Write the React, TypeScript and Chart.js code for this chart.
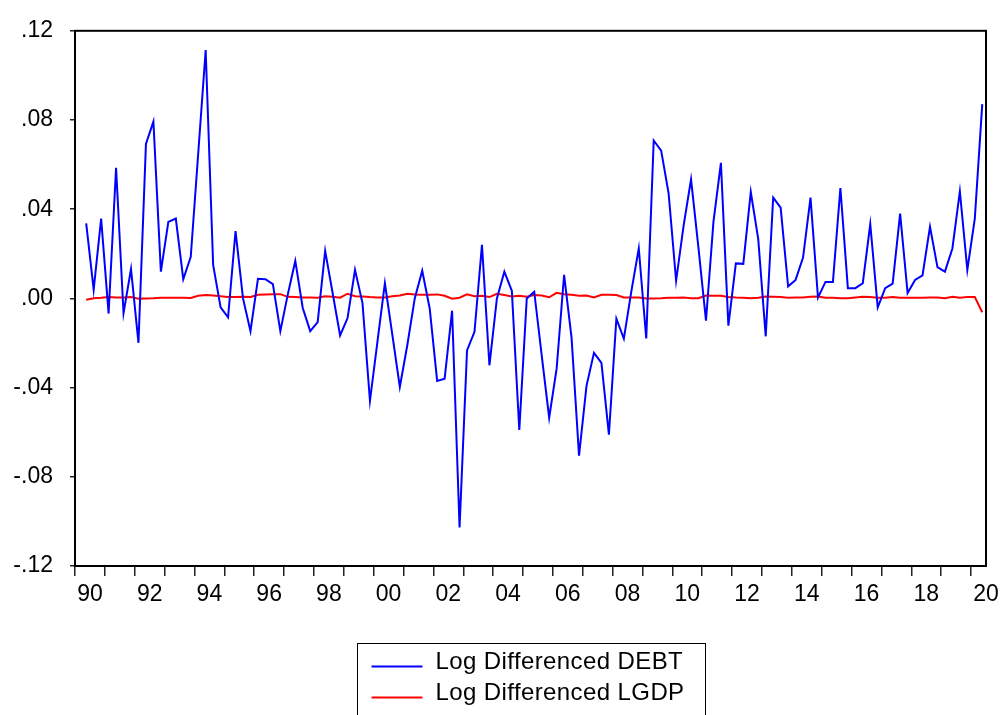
import React, { useEffect, useRef } from "react";
import { Chart, registerables } from "chart.js";

Chart.register(...registerables);

// Quarterly sample: 1990Q2 .. 2020Q2
const START_YEAR = 1990;
const START_QUARTER = 2;
const AXIS_MIN_YEAR = 1990;
const AXIS_MAX_YEAR = 2020.5;

const seriesNames = ["Log Differenced DEBT", "Log Differenced LGDP"];
const seriesColors = ["#0000FF", "#FF0000"];

const debt = [
  0.0336, 0.0039, 0.0358, -0.0068, 0.0586, -0.0066, 0.0132, -0.0199, 0.0693, 0.0793,
  0.0120, 0.0343, 0.0358, 0.0086, 0.0187, 0.0650, 0.1114, 0.0150, -0.0040, -0.0085,
  0.0302, 0.0000, -0.0147, 0.0088, 0.0086, 0.0064, -0.0147, 0.0018, 0.0168, -0.0043,
  -0.0147, -0.0106, 0.0213, 0.0024, -0.0166, -0.0088, 0.0128, -0.0021, -0.0459, -0.0195,
  0.0068, -0.0164, -0.0397, -0.0210, 0.0000, 0.0124, -0.0045, -0.0370, -0.0360, -0.0055,
  -0.1027, -0.0233, -0.0150, 0.0240, -0.0300, 0.0000, 0.0120, 0.0034, -0.0590, 0.0000,
  0.0030, -0.0255, -0.0535, -0.0315, 0.0106, -0.0177, -0.0705, -0.0392, -0.0244, -0.0289,
  -0.0611, -0.0091, -0.0180, 0.0030, 0.0224, -0.0180, 0.0708, 0.0663, 0.0470, 0.0079,
  0.0325, 0.0534, 0.0224, -0.0100, 0.0343, 0.0608, -0.0122, 0.0157, 0.0155, 0.0477,
  0.0266, -0.0170, 0.0452, 0.0407, 0.0054, 0.0083, 0.0183, 0.0452, 0.0003, 0.0074,
  0.0074, 0.0495, 0.0046, 0.0046, 0.0068, 0.0333, -0.0040, 0.0046, 0.0066, 0.0380,
  0.0024, 0.0083, 0.0103, 0.0321, 0.0140, 0.0120, 0.0224, 0.0480, 0.0128, 0.0358,
  0.0871,
];

const lgdp = [
  -0.0006, 0.0001, 0.0003, 0.0006, 0.0004, 0.0004, 0.0006, -0.0001, 0.0000, 0.0001,
  0.0003, 0.0003, 0.0003, 0.0003, 0.0002, 0.0012, 0.0015, 0.0013, 0.0010, 0.0006,
  0.0006, 0.0007, 0.0006, 0.0016, 0.0018, 0.0019, 0.0019, 0.0007, 0.0006, 0.0004,
  0.0004, 0.0003, 0.0010, 0.0007, 0.0003, 0.0021, 0.0010, 0.0009, 0.0006, 0.0004,
  0.0004, 0.0010, 0.0013, 0.0021, 0.0018, 0.0016, 0.0016, 0.0018, 0.0012, -0.0001,
  0.0003, 0.0018, 0.0010, 0.0012, 0.0006, 0.0021, 0.0015, 0.0009, 0.0012, 0.0007,
  0.0015, 0.0013, 0.0005, 0.0025, 0.0019, 0.0016, 0.0012, 0.0013, 0.0004, 0.0016,
  0.0016, 0.0015, 0.0004, 0.0004, 0.0004, 0.0000, 0.0000, 0.0001, 0.0003, 0.0003,
  0.0004, 0.0001, 0.0001, 0.0013, 0.0012, 0.0012, 0.0006, 0.0004, 0.0003, 0.0001,
  0.0003, 0.0008, 0.0007, 0.0006, 0.0003, 0.0004, 0.0004, 0.0007, 0.0009, 0.0003,
  0.0003, 0.0001, 0.0001, 0.0004, 0.0007, 0.0006, 0.0003, 0.0003, 0.0006, 0.0003,
  0.0003, 0.0003, 0.0003, 0.0004, 0.0004, 0.0001, 0.0007, 0.0003, 0.0006, 0.0006,
  -0.0062,
];

const yTicks = [-0.12, -0.08, -0.04, 0, 0.04, 0.08, 0.12];
const xLabelYears = [1990, 1992, 1994, 1996, 1998, 2000, 2002, 2004, 2006, 2008, 2010, 2012, 2014, 2016, 2018, 2020];

const FONT_FAMILY = "'Liberation Sans', Arial, Helvetica, sans-serif";

const quarterX = (i: number) => START_YEAR + (START_QUARTER - 1) / 4 + i / 4 + 0.125;

const fmtY = (v: number) => {
  if (Math.abs(v) < 1e-9) return ".00";
  const s = v.toFixed(2);
  return s.replace("0.", ".");
};

export default function App() {
  const ref = useRef<HTMLCanvasElement | null>(null);

  useEffect(() => {
    const canvas = ref.current;
    if (!canvas) return;

    const frame = {
      id: "frame",
      afterDatasetsDraw(chart: any) {
        const { ctx, chartArea } = chart;
        ctx.save();
        ctx.strokeStyle = "#000";
        ctx.lineWidth = 2;
        ctx.strokeRect(chartArea.left, chartArea.top, chartArea.right - chartArea.left, chartArea.bottom - chartArea.top);
        ctx.restore();
      },
    };

    const boxLegend = {
      id: "boxLegend",
      afterDraw(chart: any) {
        const { ctx, chartArea } = chart;
        const cx = (chartArea.left + chartArea.right) / 2;
        const left = Math.round(cx - 174) + 0.5;
        const top = Math.round(chartArea.bottom + 77) + 0.5;
        ctx.save();
        ctx.strokeStyle = "#000";
        ctx.lineWidth = 1;
        ctx.strokeRect(left, top, 348, 120);
        ctx.font = `24px ${FONT_FAMILY}`;
        try {
          (ctx as any).letterSpacing = "0.4px";
        } catch (e) {
          /* ignore */
        }
        ctx.textBaseline = "alphabetic";
        ctx.textAlign = "left";
        seriesNames.forEach((name, k) => {
          const ly = top + 23 + k * 31;
          ctx.strokeStyle = seriesColors[k];
          ctx.lineWidth = 2;
          ctx.beginPath();
          ctx.moveTo(left + 14, ly);
          ctx.lineTo(left + 65, ly);
          ctx.stroke();
          ctx.fillStyle = "#000";
          ctx.fillText(name, left + 78, ly + 2);
        });
        ctx.restore();
      },
    };

    const chart = new Chart(canvas, {
      type: "line",
      data: {
        datasets: [
          {
            label: seriesNames[0],
            data: debt.map((v, i) => ({ x: quarterX(i), y: v })),
            borderColor: seriesColors[0],
            backgroundColor: seriesColors[0],
            borderWidth: 2,
            pointRadius: 0,
            tension: 0,
            fill: false,
          },
          {
            label: seriesNames[1],
            data: lgdp.map((v, i) => ({ x: quarterX(i), y: v })),
            borderColor: seriesColors[1],
            backgroundColor: seriesColors[1],
            borderWidth: 2,
            pointRadius: 0,
            tension: 0,
            fill: false,
          },
        ],
      },
      options: {
        responsive: false,
        animation: false,
        layout: { padding: { left: 0, top: 28, right: 18, bottom: 109 } },
        plugins: {
          legend: { display: false },
          tooltip: { enabled: false },
        },
        scales: {
          x: {
            type: "linear",
            min: AXIS_MIN_YEAR,
            max: AXIS_MAX_YEAR,
            afterBuildTicks: (scale: any) => {
              const vals: number[] = [];
              for (let y = AXIS_MIN_YEAR; y <= Math.floor(AXIS_MAX_YEAR); y++) vals.push(y);
              xLabelYears.forEach((y) => vals.push(y + 0.5));
              vals.sort((a, b) => a - b);
              scale.ticks = vals.map((value) => ({ value }));
            },
            afterFit: (scale: any) => {
              scale.height = 40;
            },
            border: { display: false },
            grid: {
              drawOnChartArea: false,
              drawTicks: true,
              tickLength: 10,
              lineWidth: 1.5,
              color: (c: any) => (c.tick && Number.isInteger(c.tick.value) ? "#222" : "rgba(0,0,0,0)"),
            },
            ticks: {
              autoSkip: false,
              maxRotation: 0,
              minRotation: 0,
              padding: 5,
              color: "#000",
              font: { family: FONT_FAMILY, size: 23 },
              callback: (value: any) => {
                const v = Number(value);
                const yr = v - 0.5;
                if (xLabelYears.includes(yr)) return String(yr % 100).padStart(2, "0");
                return "";
              },
            },
          },
          y: {
            type: "linear",
            min: -0.12,
            max: 0.12,
            afterBuildTicks: (scale: any) => {
              scale.ticks = yTicks.map((value) => ({ value }));
            },
            afterFit: (scale: any) => {
              scale.width = 75;
            },
            border: { display: false },
            grid: {
              drawOnChartArea: false,
              drawTicks: true,
              tickLength: 5,
              lineWidth: 1.5,
              color: "#222",
            },
            ticks: {
              padding: 17,
              color: "#000",
              font: { family: FONT_FAMILY, size: 23 },
              callback: (value: any) => fmtY(Number(value)),
            },
          },
        },
      },
      plugins: [frame, boxLegend],
    } as any);

    return () => chart.destroy();
  }, []);

  return (
    <div style={{ position: "fixed", left: 0, top: 0, width: 1004, height: 715, background: "#fff", overflow: "hidden" }}>
      <canvas ref={ref} width={1004} height={715} style={{ display: "block" }} />
    </div>
  );
}
